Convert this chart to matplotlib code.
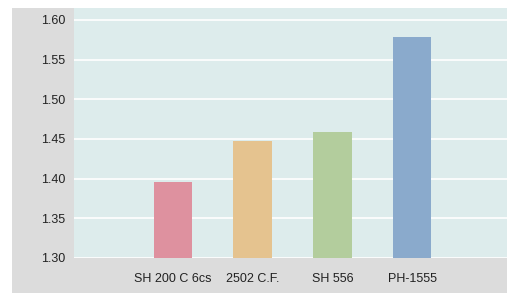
import matplotlib
matplotlib.use("Agg")
import matplotlib.pyplot as plt
from matplotlib.patches import Rectangle

plt.rcParams['font.family'] = ['Liberation Sans', 'DejaVu Sans']

# data
categories = ["SH 200 C 6cs", "2502 C.F.", "SH 556", "PH-1555"]
values = [1.396, 1.447, 1.459, 1.578]
colors = ["#de919f", "#e5c38f", "#b3cd9d", "#8aaacc"]
yticks = [1.30, 1.35, 1.40, 1.45, 1.50, 1.55, 1.60]

W, H = 507, 293
fig = plt.figure(figsize=(W / 100, H / 100), dpi=100)
fig.patch.set_facecolor("white")
# grey panel behind the axes
fig.patches.append(Rectangle((12 / W, 0), 1 - 12 / W, 1 - 8 / H,
                             transform=fig.transFigure, facecolor="#dcdcdc",
                             edgecolor="none", zorder=-1))

ax = fig.add_axes([74 / W, 35 / H, 433 / W, 250 / H])
ax.set_facecolor("#ddecec")
x = list(range(len(categories)))
ax.bar(x, values, width=0.48, color=colors, bottom=0, zorder=3)

ax.set_ylim(1.30, 1.615)
ax.set_xlim(-1.24, len(categories) - 1 + 1.19)
ax.set_yticks(yticks)
ax.set_yticklabels([f"{v:.2f}" for v in yticks])
ax.set_xticks(x)
ax.set_xticklabels(categories)
ax.tick_params(length=0, labelsize=9, colors="#222222", pad=6)
ax.tick_params(axis="x", pad=11)
ax.grid(axis="y", color="white", linewidth=1.2, zorder=1)
ax.set_axisbelow(True)
for s in ax.spines.values():
    s.set_visible(False)

fig.savefig("out.png", dpi=100)
